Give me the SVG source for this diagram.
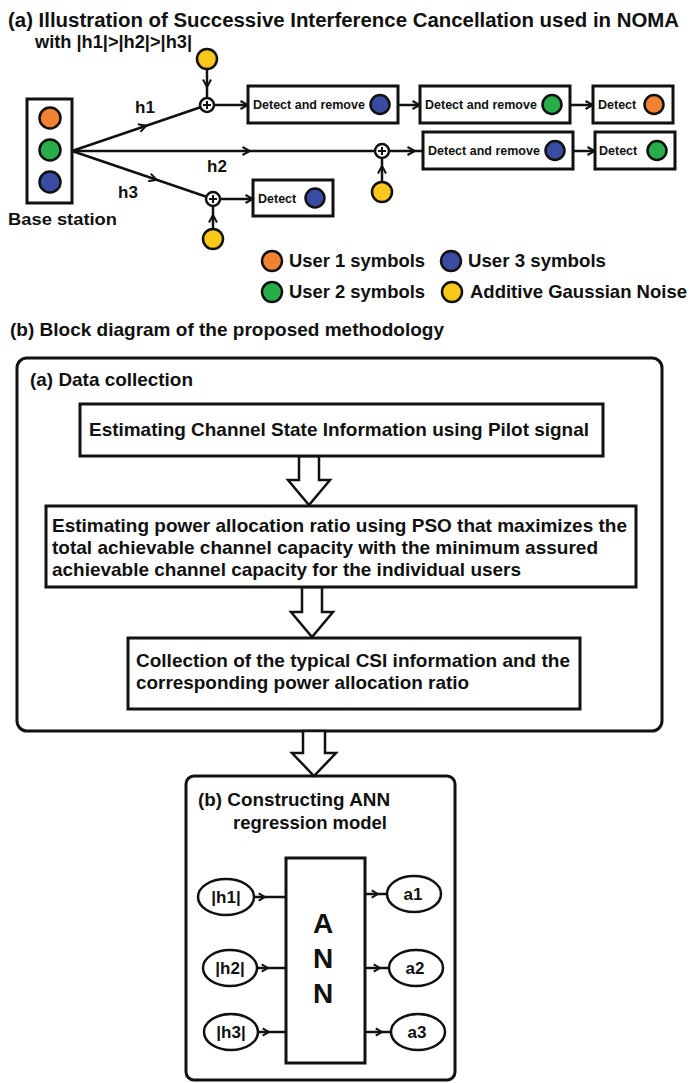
<svg xmlns="http://www.w3.org/2000/svg" width="691" height="1083" viewBox="0 0 691 1083">
<style>
  text { font-family: "Liberation Sans", Arial, sans-serif; font-weight: bold; fill: #111; }
  .box { fill: #fff; stroke: #111; stroke-width: 3; }
  .frame { fill: none; stroke: #111; stroke-width: 3; }
  .ln { fill: none; stroke: #111; stroke-width: 2.5; }
  .dot { stroke: #111; stroke-width: 2.5; }
  .or { fill: #F08232; }
  .gr { fill: #27AE4B; }
  .bl { fill: #3A4BA3; }
  .ye { fill: #F9C81A; }
  .sm { font-size: 12.5px; }
  .lab { font-size: 17px; }
  .leg { font-size: 18.5px; }
  .body { font-size: 19px; }
  .big { font-size: 28px; }
  .blk { fill: #fff; stroke: #111; stroke-width: 2.5; stroke-linejoin: miter; }
</style>
<defs>
  <marker id="chev" viewBox="0 0 10 10" refX="9" refY="5" markerWidth="10" markerHeight="10" markerUnits="userSpaceOnUse" orient="auto">
    <path d="M1.5,1 L9,5 L1.5,9" fill="none" stroke="#111" stroke-width="2"/>
  </marker>
  <marker id="chevS" viewBox="0 0 10 10" refX="9" refY="5" markerWidth="9" markerHeight="10" markerUnits="userSpaceOnUse" orient="auto">
    <path d="M2,1 L9,5 L2,9" fill="none" stroke="#111" stroke-width="2.2"/>
  </marker>
</defs>

<!-- Titles -->
<text id="title-a" x="8" y="27" style="font-size:19.5px" textLength="671" lengthAdjust="spacingAndGlyphs">(a) Illustration of Successive Interference Cancellation used in NOMA</text>
<text id="title-a2" x="35" y="48" style="font-size:18.5px" textLength="157" lengthAdjust="spacingAndGlyphs">with |h1|&gt;|h2|&gt;|h3|</text>
<text id="title-b" x="10" y="336" style="font-size:19px" textLength="434" lengthAdjust="spacingAndGlyphs">(b) Block diagram of the proposed methodology</text>

<!-- Containers -->
<g id="data-collection">
  <rect class="frame" x="17" y="358" width="645" height="373" rx="10"/>
  <text x="30" y="386" style="font-size:18.5px" textLength="163" lengthAdjust="spacingAndGlyphs">(a) Data collection</text>
</g>
<g id="ann-section">
  <rect class="frame" x="186" y="776" width="269" height="304" rx="8"/>
  <text x="198" y="806" style="font-size:18.5px" textLength="192" lengthAdjust="spacingAndGlyphs">(b) Constructing ANN</text>
  <text x="233" y="829" style="font-size:18.5px" textLength="154" lengthAdjust="spacingAndGlyphs">regression model</text>
</g>

<!-- Connectors -->
<g id="connectors">
  <path class="ln" d="M72,151 L146.3,125.7 L200.4,107.3" marker-mid="url(#chev)"/>
  <path class="ln" d="M72,151 L250,151 L375,151" marker-mid="url(#chev)"/>
  <path class="ln" d="M72,151 L156.6,179.8 L206.4,196.7" marker-mid="url(#chev)"/>
  <path class="ln" d="M207,69 L207,87 L207,98" marker-mid="url(#chev)"/>
  <path class="ln" d="M214,105 L248,105" marker-end="url(#chev)"/>
  <path class="ln" d="M398,105 L420,105" marker-end="url(#chev)"/>
  <path class="ln" d="M570,105 L593,105" marker-end="url(#chev)"/>
  <path class="ln" d="M382,182 L382,166 L382,158" marker-mid="url(#chev)"/>
  <path class="ln" d="M389,151 L415,151 L423,151" marker-mid="url(#chev)"/>
  <path class="ln" d="M573,151 L595,151" marker-end="url(#chev)"/>
  <path class="ln" d="M213,229 L213,215 L213,206" marker-mid="url(#chev)"/>
  <path class="ln" d="M220,199 L253,199" marker-end="url(#chev)"/>
  <!-- ANN connectors -->
  <path class="ln" d="M254,897 L265,897 L286,897" marker-mid="url(#chevS)"/>
  <path class="ln" d="M257,968 L268,968 L286,968" marker-mid="url(#chevS)"/>
  <path class="ln" d="M258,1032 L269,1032 L286,1032" marker-mid="url(#chevS)"/>
  <path class="ln" d="M365,894 L378,894 L387,894" marker-mid="url(#chevS)"/>
  <path class="ln" d="M365,968 L380,968 L389,968" marker-mid="url(#chevS)"/>
  <path class="ln" d="M365,1032 L382,1032 L391,1032" marker-mid="url(#chevS)"/>
  <!-- block arrows -->
  <polygon class="blk" points="299,456 319,456 319,480 330,480 309,505 288,480 299,480"/>
  <polygon class="blk" points="302,587 322,587 322,612 333,612 312,637 291,612 302,612"/>
  <polygon class="blk" points="303,731 325,731 325,753 336,753 314,776 292,753 303,753"/>
</g>

<!-- Base station -->
<g id="base-station">
  <rect class="box" x="27" y="99" width="45" height="104"/>
  <circle class="dot or" cx="50" cy="118" r="10.5"/>
  <circle class="dot gr" cx="50" cy="150" r="10.5"/>
  <circle class="dot bl" cx="50" cy="182" r="10.5"/>
  <text x="8" y="225" style="font-size:17px" textLength="109" lengthAdjust="spacingAndGlyphs">Base station</text>
</g>

<g id="channel-labels">
  <text class="lab" x="135" y="113">h1</text>
  <text class="lab" x="207" y="172">h2</text>
  <text class="lab" x="118" y="198">h3</text>
</g>

<!-- Adders and noise -->
<g id="adder1">
  <circle cx="207" cy="105" r="7" fill="#fff" stroke="#111" stroke-width="2.5"/>
  <path d="M203,105 H211 M207,101 V109" stroke="#111" stroke-width="2"/>
</g>
<g id="noise1"><circle class="dot ye" cx="207" cy="59" r="10"/></g>
<g id="adder2">
  <circle cx="382" cy="151" r="7" fill="#fff" stroke="#111" stroke-width="2.5"/>
  <path d="M378,151 H386 M382,147 V155" stroke="#111" stroke-width="2"/>
</g>
<g id="noise2"><circle class="dot ye" cx="382" cy="192" r="10"/></g>
<g id="adder3">
  <circle cx="213" cy="199" r="7" fill="#fff" stroke="#111" stroke-width="2.5"/>
  <path d="M209,199 H217 M213,195 V203" stroke="#111" stroke-width="2"/>
</g>
<g id="noise3"><circle class="dot ye" cx="213" cy="239" r="10"/></g>

<!-- Detect boxes -->
<g id="box1">
  <rect class="box" x="248" y="86" width="150" height="37"/>
  <text class="sm" x="253" y="109">Detect and remove</text>
  <circle class="dot bl" cx="380" cy="104.5" r="9.5"/>
</g>
<g id="box2">
  <rect class="box" x="420" y="86" width="150" height="37"/>
  <text class="sm" x="425" y="109">Detect and remove</text>
  <circle class="dot gr" cx="552" cy="104.5" r="9.5"/>
</g>
<g id="box3">
  <rect class="box" x="593" y="86" width="80" height="37"/>
  <text class="sm" x="598" y="109">Detect</text>
  <circle class="dot or" cx="654" cy="104.5" r="9.5"/>
</g>
<g id="box4">
  <rect class="box" x="423" y="132" width="150" height="37"/>
  <text class="sm" x="428" y="155">Detect and remove</text>
  <circle class="dot bl" cx="555" cy="150.5" r="9.5"/>
</g>
<g id="box5">
  <rect class="box" x="595" y="132" width="80" height="37"/>
  <text class="sm" x="599" y="155">Detect</text>
  <circle class="dot gr" cx="657" cy="150.5" r="9.5"/>
</g>
<g id="box6">
  <rect class="box" x="253" y="180" width="80" height="36"/>
  <text class="sm" x="258" y="203">Detect</text>
  <circle class="dot bl" cx="315" cy="198" r="9.5"/>
</g>

<!-- Legend -->
<g id="legend">
  <circle class="dot or" cx="272" cy="261" r="10"/>
  <text class="leg" x="289" y="267" textLength="136" lengthAdjust="spacingAndGlyphs">User 1 symbols</text>
  <circle class="dot bl" cx="451" cy="261" r="10"/>
  <text class="leg" x="468" y="267" textLength="138" lengthAdjust="spacingAndGlyphs">User 3 symbols</text>
  <circle class="dot gr" cx="272" cy="292" r="10"/>
  <text class="leg" x="289" y="298" textLength="136" lengthAdjust="spacingAndGlyphs">User 2 symbols</text>
  <circle class="dot ye" cx="452" cy="292" r="10"/>
  <text class="leg" x="470" y="298" textLength="217" lengthAdjust="spacingAndGlyphs">Additive Gaussian Noise</text>
</g>

<!-- Section (b) boxes -->
<g id="csi-box">
  <rect class="box" x="80" y="404" width="523" height="52"/>
  <text class="body" x="89" y="436" textLength="500" lengthAdjust="spacingAndGlyphs">Estimating Channel State Information using Pilot signal</text>
</g>
<g id="pso-box">
  <rect class="box" x="46" y="506" width="590" height="81"/>
  <text class="body" x="52" y="532" textLength="575" lengthAdjust="spacingAndGlyphs">Estimating power allocation ratio using PSO that maximizes the</text>
  <text class="body" x="52" y="554" textLength="546" lengthAdjust="spacingAndGlyphs">total achievable channel capacity with the minimum assured</text>
  <text class="body" x="52" y="576" textLength="469" lengthAdjust="spacingAndGlyphs">achievable channel capacity for the individual users</text>
</g>
<g id="collection-box">
  <rect class="box" x="128" y="638" width="452" height="71"/>
  <text class="body" x="136" y="667" textLength="434" lengthAdjust="spacingAndGlyphs">Collection of the typical CSI information and the</text>
  <text class="body" x="136" y="689" textLength="333" lengthAdjust="spacingAndGlyphs">corresponding power allocation ratio</text>
</g>

<g id="ann-box">
  <rect class="box" x="286" y="858" width="79" height="205" stroke-width="2.5"/>
  <text class="big" x="323" y="933" text-anchor="middle">A</text>
  <text class="big" x="323" y="968" text-anchor="middle">N</text>
  <text class="big" x="323" y="1003" text-anchor="middle">N</text>
</g>
<g id="in-h1">
  <ellipse cx="226" cy="897" rx="28" ry="18" fill="#fff" stroke="#111" stroke-width="2.5"/>
  <text x="226" y="903" text-anchor="middle" style="font-size:17px">|h1|</text>
</g>
<g id="in-h2">
  <ellipse cx="230" cy="968" rx="27" ry="18" fill="#fff" stroke="#111" stroke-width="2.5"/>
  <text x="230" y="974" text-anchor="middle" style="font-size:17px">|h2|</text>
</g>
<g id="in-h3">
  <ellipse cx="231" cy="1032" rx="27" ry="18" fill="#fff" stroke="#111" stroke-width="2.5"/>
  <text x="231" y="1038" text-anchor="middle" style="font-size:17px">|h3|</text>
</g>
<g id="out-a1">
  <ellipse cx="414" cy="894" rx="27" ry="18" fill="#fff" stroke="#111" stroke-width="2.5"/>
  <text x="413" y="900" text-anchor="middle" style="font-size:17px">a1</text>
</g>
<g id="out-a2">
  <ellipse cx="416" cy="968" rx="27" ry="18" fill="#fff" stroke="#111" stroke-width="2.5"/>
  <text x="415" y="974" text-anchor="middle" style="font-size:17px">a2</text>
</g>
<g id="out-a3">
  <ellipse cx="418" cy="1032" rx="27" ry="18" fill="#fff" stroke="#111" stroke-width="2.5"/>
  <text x="417" y="1038" text-anchor="middle" style="font-size:17px">a3</text>
</g>
</svg>
